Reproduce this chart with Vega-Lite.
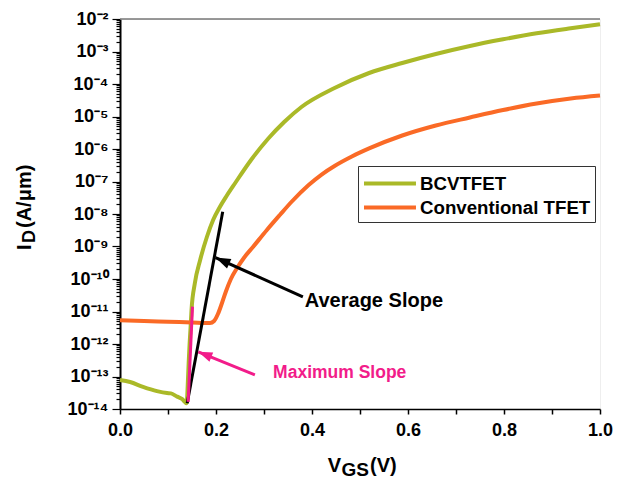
{
  "$schema": "https://vega.github.io/schema/vega-lite/v6.json",
  "width": 480,
  "height": 390,
  "autosize": {"type": "none"},
  "padding": {"left": 120, "top": 19, "right": 29, "bottom": 74},
  "background": "white",
  "config": {"view": {"stroke": "#eeeeee"}, "font": "Liberation Sans"},
  "datasets": {
    "curves": [
      {"V": 0, "I": 7.76e-14, "series": "BCVTFET"},
      {"V": 0.021, "I": 6.76e-14, "series": "BCVTFET"},
      {"V": 0.048, "I": 4.79e-14, "series": "BCVTFET"},
      {"V": 0.077, "I": 3.55e-14, "series": "BCVTFET"},
      {"V": 0.098, "I": 3.09e-14, "series": "BCVTFET"},
      {"V": 0.106, "I": 3.02e-14, "series": "BCVTFET"},
      {"V": 0.119, "I": 2.40e-14, "series": "BCVTFET"},
      {"V": 0.129, "I": 2.04e-14, "series": "BCVTFET"},
      {"V": 0.139, "I": 1.51e-14, "series": "BCVTFET"},
      {"V": 0.141, "I": 5.01e-14, "series": "BCVTFET"},
      {"V": 0.143, "I": 2.51e-13, "series": "BCVTFET"},
      {"V": 0.145, "I": 1.0e-12, "series": "BCVTFET"},
      {"V": 0.147, "I": 3.16e-12, "series": "BCVTFET"},
      {"V": 0.149, "I": 1.11e-11, "series": "BCVTFET"},
      {"V": 0.156, "I": 7.53e-11, "series": "BCVTFET"},
      {"V": 0.167, "I": 3.85e-10, "series": "BCVTFET"},
      {"V": 0.181, "I": 1.96e-9, "series": "BCVTFET"},
      {"V": 0.194, "I": 6.53e-9, "series": "BCVTFET"},
      {"V": 0.208, "I": 1.64e-8, "series": "BCVTFET"},
      {"V": 0.222, "I": 3.58e-8, "series": "BCVTFET"},
      {"V": 0.240, "I": 8.99e-8, "series": "BCVTFET"},
      {"V": 0.273, "I": 4.59e-7, "series": "BCVTFET"},
      {"V": 0.309, "I": 2.10e-6, "series": "BCVTFET"},
      {"V": 0.342, "I": 6.78e-6, "series": "BCVTFET"},
      {"V": 0.378, "I": 1.96e-5, "series": "BCVTFET"},
      {"V": 0.447, "I": 7.53e-5, "series": "BCVTFET"},
      {"V": 0.519, "I": 2.18e-4, "series": "BCVTFET"},
      {"V": 0.588, "I": 4.43e-4, "series": "BCVTFET"},
      {"V": 0.658, "I": 8.38e-4, "series": "BCVTFET"},
      {"V": 0.729, "I": 1.48e-3, "series": "BCVTFET"},
      {"V": 0.798, "I": 2.37e-3, "series": "BCVTFET"},
      {"V": 0.868, "I": 3.63e-3, "series": "BCVTFET"},
      {"V": 0.939, "I": 5.18e-3, "series": "BCVTFET"},
      {"V": 1.0, "I": 6.87e-3, "series": "BCVTFET"},
      {"V": 0, "I": 5.4e-12, "series": "Conventional TFET"},
      {"V": 0.05, "I": 5.1e-12, "series": "Conventional TFET"},
      {"V": 0.10, "I": 4.85e-12, "series": "Conventional TFET"},
      {"V": 0.15, "I": 4.6e-12, "series": "Conventional TFET"},
      {"V": 0.1875, "I": 4.43e-12, "series": "Conventional TFET"},
      {"V": 0.196, "I": 5.10e-12, "series": "Conventional TFET"},
      {"V": 0.204, "I": 8.38e-12, "series": "Conventional TFET"},
      {"V": 0.2125, "I": 1.83e-11, "series": "Conventional TFET"},
      {"V": 0.221, "I": 4.28e-11, "series": "Conventional TFET"},
      {"V": 0.231, "I": 1.0e-10, "series": "Conventional TFET"},
      {"V": 0.244, "I": 2.18e-10, "series": "Conventional TFET"},
      {"V": 0.258, "I": 4.43e-10, "series": "Conventional TFET"},
      {"V": 0.277, "I": 9.66e-10, "series": "Conventional TFET"},
      {"V": 0.306, "I": 3.22e-9, "series": "Conventional TFET"},
      {"V": 0.333, "I": 9.31e-9, "series": "Conventional TFET"},
      {"V": 0.357, "I": 2.34e-8, "series": "Conventional TFET"},
      {"V": 0.393, "I": 7.80e-8, "series": "Conventional TFET"},
      {"V": 0.420, "I": 1.64e-7, "series": "Conventional TFET"},
      {"V": 0.447, "I": 3.00e-7, "series": "Conventional TFET"},
      {"V": 0.483, "I": 5.87e-7, "series": "Conventional TFET"},
      {"V": 0.519, "I": 1.04e-6, "series": "Conventional TFET"},
      {"V": 0.588, "I": 2.60e-6, "series": "Conventional TFET"},
      {"V": 0.658, "I": 5.28e-6, "series": "Conventional TFET"},
      {"V": 0.729, "I": 9.31e-6, "series": "Conventional TFET"},
      {"V": 0.798, "I": 1.58e-5, "series": "Conventional TFET"},
      {"V": 0.868, "I": 2.51e-5, "series": "Conventional TFET"},
      {"V": 0.939, "I": 3.58e-5, "series": "Conventional TFET"},
      {"V": 1.0, "I": 4.43e-5, "series": "Conventional TFET"}
    ],
    "segments": [
      {"name": "avg_fit", "x": 0.140, "y": 1.51e-14, "x2": 0.214, "y2": 1.17e-8},
      {"name": "max_fit", "x": 0.142, "y": 1.66e-14, "x2": 0.151, "y2": 1.41e-11},
      {"name": "avg_arrow", "x": 0.381, "y": 2.82e-11, "x2": 0.199, "y2": 4.57e-10},
      {"name": "max_arrow", "x": 0.281, "y": 1.12e-13, "x2": 0.163, "y2": 5.75e-13}
    ],
    "notes": [
      {"name": "avg", "label": "Average Slope", "x": 0.385, "y": 2.04e-11},
      {"name": "max", "label": "Maximum Slope", "x": 0.319, "y": 1.29e-13}
    ]
  },
  "layer": [
    {
      "data": {"name": "curves"},
      "mark": {"type": "line", "strokeWidth": 4, "interpolate": "monotone"},
      "encoding": {
        "x": {
          "field": "V", "type": "quantitative",
          "scale": {"domain": [0, 1], "nice": false, "zero": false},
          "axis": {
            "title": null,
            "values": [0, 0.1, 0.2, 0.3, 0.4, 0.5, 0.6, 0.7, 0.8, 0.9, 1.0],
            "labelExpr": "round(datum.value*10) % 2 == 0 ? format(datum.value, '.1f') : ''",
            "labelFont": "Liberation Sans", "labelFontSize": 18, "labelFontWeight": "bold", "labelColor": "black",
            "labelPadding": 7, "labelFlush": false, "labelOverlap": false,
            "tickSize": 5, "tickColor": "black", "tickWidth": 1.5,
            "domainColor": "black", "domainWidth": 1.5, "grid": false
          }
        },
        "y": {
          "field": "I", "type": "quantitative",
          "scale": {"type": "log", "domain": [1e-14, 0.01], "nice": false},
          "axis": {
            "title": null,
            "values": [1e-14,2e-14,3e-14,4e-14,5e-14,6e-14,7e-14,8e-14,9e-14,
                       1e-13,2e-13,3e-13,4e-13,5e-13,6e-13,7e-13,8e-13,9e-13,
                       1e-12,2e-12,3e-12,4e-12,5e-12,6e-12,7e-12,8e-12,9e-12,
                       1e-11,2e-11,3e-11,4e-11,5e-11,6e-11,7e-11,8e-11,9e-11,
                       1e-10,2e-10,3e-10,4e-10,5e-10,6e-10,7e-10,8e-10,9e-10,
                       1e-9,2e-9,3e-9,4e-9,5e-9,6e-9,7e-9,8e-9,9e-9,
                       1e-8,2e-8,3e-8,4e-8,5e-8,6e-8,7e-8,8e-8,9e-8,
                       1e-7,2e-7,3e-7,4e-7,5e-7,6e-7,7e-7,8e-7,9e-7,
                       1e-6,2e-6,3e-6,4e-6,5e-6,6e-6,7e-6,8e-6,9e-6,
                       1e-5,2e-5,3e-5,4e-5,5e-5,6e-5,7e-5,8e-5,9e-5,
                       1e-4,2e-4,3e-4,4e-4,5e-4,6e-4,7e-4,8e-4,9e-4,
                       1e-3,2e-3,3e-3,4e-3,5e-3,6e-3,7e-3,8e-3,9e-3,
                       1e-2],
            "labelExpr": "abs(log(datum.value)/LN10 - round(log(datum.value)/LN10)) < 0.001 ? ['10⁻¹⁴','10⁻¹³','10⁻¹²','10⁻¹¹','10⁻¹⁰','10⁻⁹','10⁻⁸','10⁻⁷','10⁻⁶','10⁻⁵','10⁻⁴','10⁻³','10⁻²'][round(log(datum.value)/LN10)+14] : ''",
            "labelFont": "Liberation Sans", "labelFontSize": 18, "labelFontWeight": "bold", "labelColor": "black",
            "labelPadding": 4, "labelOverlap": false, "labelBound": false, "labelFlush": false,
            "tickSize": {"condition": {"test": "abs(log(datum.value)/LN10 - round(log(datum.value)/LN10)) < 0.001", "value": 8}, "value": 4},
            "tickColor": "black", "tickWidth": 1.2,
            "domainColor": "black", "domainWidth": 2, "grid": false
          }
        },
        "color": {
          "field": "series", "type": "nominal",
          "scale": {"domain": ["BCVTFET", "Conventional TFET"], "range": ["#AAB928", "#FA6A26"]},
          "legend": {
            "orient": "none", "legendX": 238, "legendY": 147, "title": null,
            "symbolType": "M-1,0L3.52,0", "symbolStrokeWidth": 4, "symbolSize": 529,
            "labelFont": "Liberation Sans", "labelFontSize": 18.7, "labelFontWeight": "bold", "labelColor": "black",
            "labelOffset": 31, "labelLimit": 400, "rowPadding": 0, "padding": 4,
            "strokeColor": "#333333", "fillColor": "white"
          }
        }
      }
    },
    {
      "data": {"values": [{"t": "top"}]},
      "mark": {"type": "rule", "color": "#777777", "strokeWidth": 1.5},
      "encoding": {"y": {"datum": 0.01}}
    },
    {
      "data": {"name": "segments"},
      "transform": [{"filter": "datum.name == 'avg_fit' || datum.name == 'avg_arrow'"}],
      "mark": {"type": "rule", "color": "black", "strokeWidth": 3},
      "encoding": {
        "x": {"field": "x", "type": "quantitative"},
        "y": {"field": "y", "type": "quantitative"},
        "x2": {"field": "x2"},
        "y2": {"field": "y2"}
      }
    },
    {
      "data": {"name": "segments"},
      "transform": [{"filter": "datum.name == 'max_fit' || datum.name == 'max_arrow'"}],
      "mark": {"type": "rule", "color": "#F21C8A", "strokeWidth": 3},
      "encoding": {
        "x": {"field": "x", "type": "quantitative"},
        "y": {"field": "y", "type": "quantitative"},
        "x2": {"field": "x2"},
        "y2": {"field": "y2"}
      }
    },
    {
      "data": {"name": "segments"},
      "transform": [{"filter": "datum.name == 'avg_arrow'"}],
      "mark": {"type": "point", "shape": "M0,0L0.7,2L-0.7,2Z", "filled": true, "color": "black", "opacity": 1, "size": 225, "angle": 294.3},
      "encoding": {
        "x": {"field": "x2", "type": "quantitative"},
        "y": {"field": "y2", "type": "quantitative"}
      }
    },
    {
      "data": {"name": "segments"},
      "transform": [{"filter": "datum.name == 'max_arrow'"}],
      "mark": {"type": "point", "shape": "M0,0L0.7,2L-0.7,2Z", "filled": true, "color": "#F21C8A", "opacity": 1, "size": 200, "angle": 292.3},
      "encoding": {
        "x": {"field": "x2", "type": "quantitative"},
        "y": {"field": "y2", "type": "quantitative"}
      }
    },
    {
      "data": {"name": "notes"},
      "transform": [{"filter": "datum.name == 'avg'"}],
      "mark": {"type": "text", "align": "left", "baseline": "middle", "font": "Liberation Sans", "fontSize": 20, "fontWeight": "bold", "color": "black"},
      "encoding": {
        "x": {"field": "x", "type": "quantitative"},
        "y": {"field": "y", "type": "quantitative"},
        "text": {"field": "label"}
      }
    },
    {
      "data": {"name": "notes"},
      "transform": [{"filter": "datum.name == 'max'"}],
      "mark": {"type": "text", "align": "left", "baseline": "middle", "font": "Liberation Sans", "fontSize": 17.5, "fontWeight": "bold", "color": "#F21C8A"},
      "encoding": {
        "x": {"field": "x", "type": "quantitative"},
        "y": {"field": "y", "type": "quantitative"},
        "text": {"field": "label"}
      }
    },
    {
      "data": {"values": [{"t": "V"}]},
      "mark": {"type": "text", "align": "left", "baseline": "alphabetic", "font": "Liberation Sans", "fontSize": 20, "fontWeight": "bold", "color": "black"},
      "encoding": {"x": {"datum": 0.433}, "y": {"datum": 1.15e-16}, "text": {"field": "t"}}
    },
    {
      "data": {"values": [{"t": "GS"}]},
      "mark": {"type": "text", "align": "left", "baseline": "alphabetic", "font": "Liberation Sans", "fontSize": 19, "fontWeight": "bold", "color": "black"},
      "encoding": {"x": {"datum": 0.4615}, "y": {"datum": 8.7e-17}, "text": {"field": "t"}}
    },
    {
      "data": {"values": [{"t": "(V)"}]},
      "mark": {"type": "text", "align": "left", "baseline": "alphabetic", "font": "Liberation Sans", "fontSize": 20, "fontWeight": "bold", "color": "black"},
      "encoding": {"x": {"datum": 0.521}, "y": {"datum": 1.15e-16}, "text": {"field": "t"}}
    },
    {
      "data": {"values": [{"t": "I"}]},
      "mark": {"type": "text", "align": "left", "baseline": "alphabetic", "angle": 270, "font": "Liberation Sans", "fontSize": 20, "fontWeight": "bold", "color": "black"},
      "encoding": {"x": {"datum": -0.1854}, "y": {"datum": 7.8e-10}, "text": {"field": "t"}}
    },
    {
      "data": {"values": [{"t": "D"}]},
      "mark": {"type": "text", "align": "left", "baseline": "alphabetic", "angle": 270, "font": "Liberation Sans", "fontSize": 18, "fontWeight": "bold", "color": "black"},
      "encoding": {"x": {"datum": -0.1775}, "y": {"datum": 1.28e-9}, "text": {"field": "t"}}
    },
    {
      "data": {"values": [{"t": "(A/μm)"}]},
      "mark": {"type": "text", "align": "left", "baseline": "alphabetic", "angle": 270, "font": "Liberation Sans", "fontSize": 20, "fontWeight": "bold", "color": "black"},
      "encoding": {"x": {"datum": -0.1854}, "y": {"datum": 3.71e-9}, "text": {"field": "t"}}
    }
  ]
}
